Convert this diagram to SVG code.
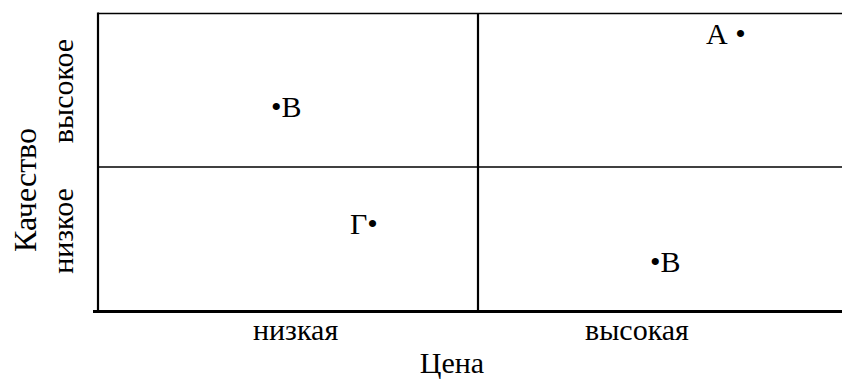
<svg xmlns="http://www.w3.org/2000/svg" width="842" height="380" viewBox="0 0 842 380">
<rect width="842" height="380" fill="#fff"/>
<g id="connectors" stroke="#000" fill="none">
<line x1="98" y1="13.5" x2="842" y2="13.5" stroke-width="1.5"/>
<line x1="98" y1="167" x2="842" y2="167" stroke-width="1.5"/>
<line x1="98" y1="12.5" x2="98" y2="312" stroke-width="2.2"/>
<line x1="478" y1="13" x2="478" y2="312" stroke-width="2.2"/>
<line x1="93" y1="311.5" x2="842" y2="311.5" stroke-width="3"/>
</g>
<g id="axis-x">
<text font-family="Liberation Serif" font-size="30" x="253" y="340">низкая</text>
<text font-family="Liberation Serif" font-size="30" x="585" y="340">высокая</text>
<text font-family="Liberation Serif" font-size="30" x="452" y="373" text-anchor="middle">Цена</text>
</g>
<g id="axis-y">
<text font-family="Liberation Serif" font-size="32" transform="translate(36,190) rotate(-90)" text-anchor="middle">Качество</text>
<text font-family="Liberation Serif" font-size="30" transform="translate(73,91) rotate(-90)" text-anchor="middle">высокое</text>
<text font-family="Liberation Serif" font-size="30" transform="translate(73,231) rotate(-90)" text-anchor="middle">низкое</text>
</g>
<g id="point-A"><text font-family="Liberation Serif" font-size="30" x="706" y="44">А •</text></g>
<g id="point-B1"><text font-family="Liberation Serif" font-size="30" x="271" y="117">•В</text></g>
<g id="point-G"><text font-family="Liberation Serif" font-size="30" x="350" y="234">Г•</text></g>
<g id="point-B2"><text font-family="Liberation Serif" font-size="30" x="650" y="272">•В</text></g>
</svg>
